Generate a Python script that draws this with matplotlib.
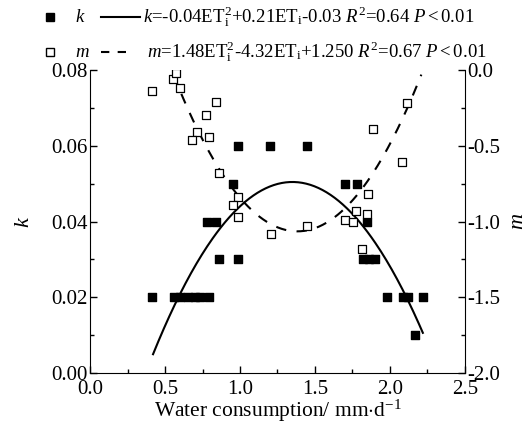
import numpy as np
import matplotlib
matplotlib.use("Agg")
import matplotlib.pyplot as plt
from matplotlib.lines import Line2D

plt.rcParams['font.family'] = ['Liberation Serif', 'DejaVu Sans']
plt.rcParams['mathtext.fontset'] = 'custom'
plt.rcParams['mathtext.rm'] = 'Liberation Serif'
plt.rcParams['mathtext.it'] = 'Liberation Serif:italic'

# k observations (filled squares)
k_x = [0.41, 0.56, 0.60, 0.65, 0.70, 0.73, 0.79, 0.86, 0.99, 0.78, 0.84, 0.955,
       0.99, 1.20, 1.445, 1.70, 1.78, 1.85, 1.82, 1.86, 1.90, 1.98, 2.09, 2.12, 2.22, 2.17]
k_y = [0.02, 0.02, 0.02, 0.02, 0.02, 0.02, 0.02, 0.03, 0.03, 0.04, 0.04, 0.05,
       0.06, 0.06, 0.06, 0.05, 0.05, 0.04, 0.03, 0.03, 0.03, 0.02, 0.02, 0.02, 0.02, 0.01]

# m observations (open squares)
m_x = [0.41, 0.556, 0.573, 0.60, 0.84, 0.773, 0.716, 0.678, 0.79, 0.862, 0.987, 0.956,
       0.99, 1.205, 1.45, 1.70, 1.755, 1.775, 1.85, 1.853, 1.885, 2.08, 2.115, 1.815]
m_y = [-0.14, -0.06, -0.02, -0.12, -0.21, -0.30, -0.41, -0.46, -0.44, -0.68, -0.84, -0.89,
       -0.97, -1.08, -1.03, -0.99, -1.00, -0.93, -0.95, -0.82, -0.39, -0.61, -0.22, -1.18]

# fitted curves as drawn (quadratic coefficients a, b, c) and their x ranges
k_fit = [-0.0526, 0.1420, -0.0454]
k_fit_range = [0.42, 2.22]
m_fit = [1.513, -4.185, 1.829]
m_fit_range = [0.556, 2.21]

fig = plt.figure(figsize=(5.30, 4.28), dpi=100)
ax = fig.add_axes([0.170, 0.1285, 0.707, 0.7079])
ax2 = ax.twinx()

ax.scatter(k_x, k_y, marker='s', s=30, facecolor='black', edgecolor='black', zorder=3)
xk = np.linspace(*k_fit_range, 200)
ax.plot(xk, np.polyval(k_fit, xk), color='black', lw=1.5)

ax2.scatter(m_x, m_y, marker='s', s=30, facecolor='white', edgecolor='black', linewidth=0.9, zorder=3)
xm = np.linspace(*m_fit_range, 200)
ax2.plot(xm, np.polyval(m_fit, xm), color='black', lw=1.5, dashes=(5, 5))

ax.set_xlim(0, 2.5)
ax.set_ylim(0, 0.08)
ax2.set_ylim(-2.0, 0.0)
ax.set_xticks(np.arange(0, 2.51, 0.5))
ax.set_xticks(np.arange(0, 2.51, 0.25), minor=True)
ax.set_yticks(np.arange(0, 0.081, 0.02))
ax.set_yticks(np.arange(0, 0.081, 0.01), minor=True)
ax2.set_yticks(np.arange(-2.0, 0.01, 0.5))
ax2.set_yticks(np.arange(-2.0, 0.01, 0.25), minor=True)
ax.set_xticklabels([f"{v:.1f}" for v in np.arange(0, 2.51, 0.5)])
ax.set_yticklabels([f"{v:.2f}" for v in np.arange(0, 0.081, 0.02)])
ax2.set_yticklabels([f"{v:.1f}" for v in np.arange(-2.0, 0.01, 0.5)])

for a in (ax, ax2):
    a.spines['top'].set_visible(False)
    a.tick_params(which='major', direction='in', length=5, width=1, labelsize=15, pad=2)
    a.tick_params(which='minor', direction='in', length=3, width=1)
ax.tick_params(axis='x', which='major', pad=5)
ax.spines['right'].set_visible(False)
ax2.spines['left'].set_visible(False)
ax2.spines['bottom'].set_visible(False)

ax.set_xlabel(r"Water consumption/ mm$\cdot$d$^{-1}$", fontsize=15.5, labelpad=-1)
ax.set_ylabel(r"$k$", fontsize=16, labelpad=12)
ax2.set_ylabel(r"$m$", fontsize=16, labelpad=6)

# legend drawn manually at the top
fs = 13.5
fig.add_artist(Line2D([0.094], [0.960], marker='s', ms=5.5, color='black', mfc='black', ls='none'))
fig.text(0.142, 0.960, r"$k$", fontsize=fs, va='center')
fig.add_artist(Line2D([0.190, 0.265], [0.960, 0.960], color='black', lw=1.5))
fig.text(0.270, 0.960, r"$k$=-0.04ET$_\mathrm{i}^2$+0.21ET$_\mathrm{i}$-0.03 $R^2$=0.64 $P$$<$0.01",
         fontsize=fs, va='center')
fig.add_artist(Line2D([0.094], [0.878], marker='s', ms=5.5, color='black', mfc='white', ls='none'))
fig.text(0.142, 0.878, r"$m$", fontsize=fs, va='center')
fig.add_artist(Line2D([0.190, 0.245], [0.878, 0.878], color='black', lw=1.5, dashes=(4, 4)))
fig.text(0.277, 0.878, r"$m$=1.48ET$_\mathrm{i}^2$-4.32ET$_\mathrm{i}$+1.250 $R^2$=0.67 $P$$<$0.01",
         fontsize=fs, va='center')

fig.savefig("out.png", dpi=100)
